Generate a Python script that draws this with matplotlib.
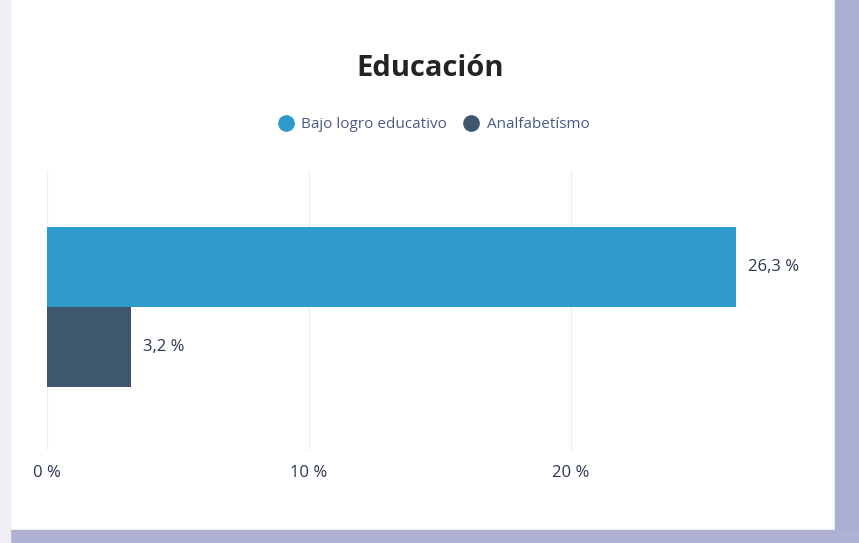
import matplotlib
matplotlib.use("Agg")
import matplotlib.pyplot as plt
from matplotlib.lines import Line2D
from matplotlib.patches import Rectangle
from matplotlib.ticker import FuncFormatter

plt.rcParams["font.family"] = ["Open Sans", "DejaVu Sans"]

series = ["Bajo logro educativo", "Analfabetísmo"]
values = [26.3, 3.2]
labels = ["26,3 %", "3,2 %"]
colors = ["#2f9bcc", "#3f566f"]
ticks = [0, 10, 20]

W, H = 859, 543
fig = plt.figure(figsize=(W / 100, H / 100), dpi=100, facecolor="white")

# photo shadow around the card
fig.add_artist(Rectangle((835 / W, 0), 24 / W, 1, transform=fig.transFigure,
                         color="#aaaed0", zorder=0))
fig.add_artist(Rectangle((0, 0), 1, 13 / H, transform=fig.transFigure,
                         color="#aeb1d2", zorder=0))
fig.add_artist(Rectangle((0, 0), 10 / W, 1, transform=fig.transFigure,
                         color="#eeeef4", zorder=0))

ax = fig.add_axes([47 / W, 1 - 450 / H, 786 / W, 280 / H])
ax.set_facecolor("none")
ypos = [0.5, -0.5]
ax.barh(ypos, values, height=1.0, color=colors, zorder=2)
for y, v, t in zip(ypos, values, labels):
    ax.text(v + 0.45, y, t, va="center", ha="left", fontsize=12, color="#2a3550")

ax.set_xlim(0, 30)
ax.set_ylim(-1.7875, 1.7125)
ax.set_xticks(ticks)
ax.xaxis.set_major_formatter(FuncFormatter(lambda v, p: f"{v:.0f} %"))
ax.tick_params(axis="x", length=0, pad=11, labelsize=12, labelcolor="#2a3550")
ax.set_yticks([])
for s in ax.spines.values():
    s.set_visible(False)
ax.grid(axis="x", color="#eeeeee", lw=1, zorder=0)

fig.text(430 / W, 1 - 68 / H, "Educación", ha="center", va="center",
         fontsize=21, fontweight="bold", color="#252423")

handles = [Line2D([], [], marker="o", ls="", ms=11, color=c) for c in colors]
fig.legend(handles, series, loc="center", bbox_to_anchor=(430 / W, 1 - 125 / H),
           ncol=2, frameon=False, fontsize=11, handletextpad=0.0,
           columnspacing=0.6, labelcolor="#4a5a86")

fig.savefig("out.png", dpi=100)
